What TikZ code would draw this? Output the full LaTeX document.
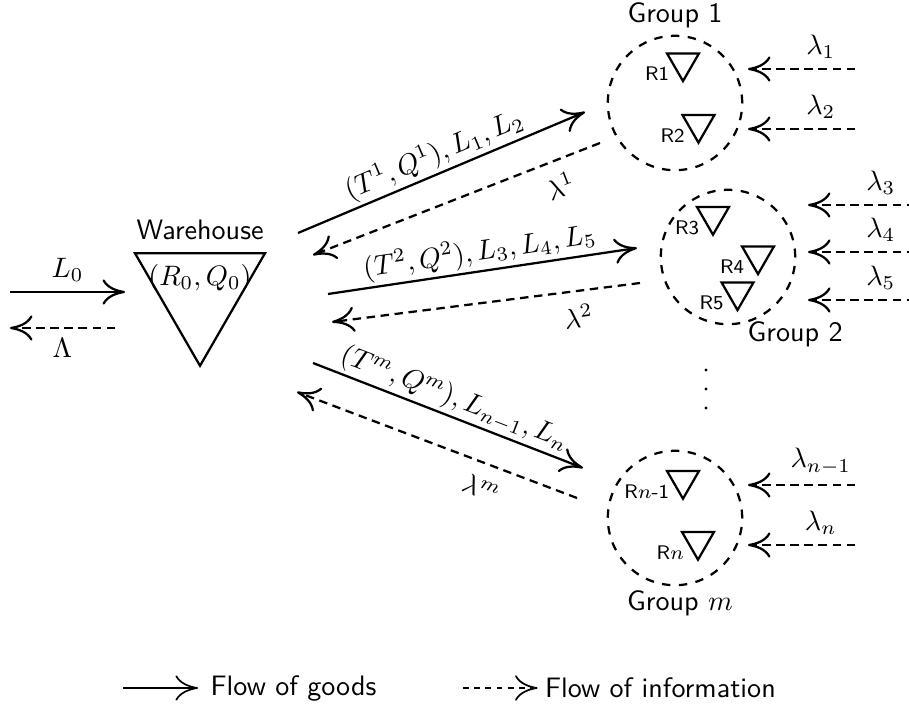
\documentclass[tikz,border=0pt]{standalone}
\usepackage{amsmath,amssymb}
\usetikzlibrary{shapes.geometric,arrows.meta}
\renewcommand{\familydefault}{\sfdefault}

\begin{document}
\begin{tikzpicture}[
  >={To[length=8pt,width=9pt]},
  store/.style={draw,thick,regular polygon,regular polygon sides=3,shape border rotate=180,inner sep=0pt},
  retailer/.style={store,minimum size=0.46cm,label={[font=\scriptsize,inner sep=0.5pt,label distance=0pt,yshift=-0.14cm]left:#1}},
  group/.style={draw,thick,dashed,circle,minimum size=1.68cm,inner sep=0pt},
  goods/.style={thick,->},
  info/.style={thick,dash pattern=on 3pt off 2pt,->}]
\useasboundingbox (0,0) rectangle (11.3625,8.825);

% warehouse
\node[store,minimum size=1.875cm,label={[label distance=1pt]above:Warehouse}] (wh) at (2.5,5.19) {};
\node (rq) at (2.5,5.35) {$(R_0,Q_0)$};
\coordinate (l0s) at (0.125,5.175);
\coordinate (l0e) at (1.5625,5.175);
\draw[goods] (l0s)--(l0e) node[midway,above]{$L_0$};
\coordinate (lams) at (1.4375,4.725);
\coordinate (lame) at (0.125,4.725);
\draw[info] (lams)--(lame) node[midway,below]{$\Lambda$};

% groups of retailers
\node[group,label={[label distance=-1pt]above:Group 1}] (g1) at (8.4375,7.5375) {};
\node[group] (g2) at (9.1,5.6125) {};
\node[group] (gm) at (8.4375,2.35) {};
\node (g2t) at (9.94,4.64) {Group 2};
\node (gmt) at (8.5,1.2875) {Group $m$};

\node[retailer=R1] (r1) at (8.5375,8.0413) {};
\node[retailer=R2] (r2) at (8.731,7.2713) {};
\node[retailer=R3] (r3) at (8.9125,6.121) {};
\node[retailer=R4] (r4) at (9.475,5.629) {};
\node[retailer=R5] (r5) at (9.219,5.179) {};
\node[retailer=R$n$-1] (rn1) at (8.5375,2.821) {};
\node[retailer=R$n$] (rn) at (8.725,2.059) {};

\foreach \y in {4.2,3.9625,3.725}
  \fill (8.825,\y) circle (0.02);

% demand information from the retailers
\foreach \y/\lab/\xs/\xe [count=\i] in {7.9625/1/10.6875/9.35, 7.2125/2/10.6875/9.35,
    6.2625/3/11.4375/10.1, 5.675/4/11.4375/10.1, 5.075/5/11.4375/10.1,
    2.7625/{n-1}/10.6875/9.35, 2.0125/n/10.6875/9.35}{
  \coordinate (ds\i) at (\xs,\y);
  \coordinate (de\i) at (\xe,\y);
  \draw[info] (ds\i)--(de\i) node[pos=0.32,above]{$\lambda_{\lab}$};
}

% shipments and orders
\coordinate (a1s) at (3.725,5.9125);
\coordinate (a1e) at (7.3125,7.425);
\draw[goods] (a1s)--(a1e) node[midway,above,sloped,inner sep=1pt]{$(T^1,Q^1),L_1,L_2$};
\coordinate (b1s) at (7.5,7.0375);
\coordinate (b1e) at (3.9125,5.6375);
\draw[info] (b1s)--(b1e) node[pos=0.17,below,sloped,inner sep=4.5pt]{$\lambda^1$};

\coordinate (a2s) at (4.1,5.15);
\coordinate (a2e) at (7.9625,5.725);
\draw[goods] (a2s)--(a2e) node[midway,above,sloped,inner sep=1pt]{$(T^2,Q^2),L_3,L_4,L_5$};
\coordinate (b2s) at (8.0,5.2875);
\coordinate (b2e) at (4.15,4.8);
\draw[info] (b2s)--(b2e) node[pos=0.21,below,sloped,inner sep=4.5pt]{$\lambda^2$};

\coordinate (ams) at (3.9125,4.2875);
\coordinate (ame) at (7.2875,2.975);
\draw[goods] (ams)--(ame) node[midway,above,sloped,inner sep=1pt]{$(T^m,Q^m),L_{n-1},L_n$};
\coordinate (bms) at (7.2125,2.6);
\coordinate (bme) at (3.7125,3.925);
\draw[info] (bms)--(bme) node[pos=0.31,below,sloped,inner sep=5pt]{$\lambda^m$};

% legend
\coordinate (k1s) at (1.5375,0.225);
\coordinate (k1e) at (2.475,0.225);
\draw[semithick,->] (k1s)--(k1e);
\node[anchor=west] (k1t) at (2.51,0.225) {Flow of goods};
\coordinate (k2s) at (5.7875,0.225);
\coordinate (k2e) at (6.72,0.225);
\draw[semithick,dash pattern=on 2pt off 2pt,->] (k2s)--(k2e);
\node[anchor=west] (k2t) at (6.69,0.225) {Flow of information};
\end{tikzpicture}
\end{document}
